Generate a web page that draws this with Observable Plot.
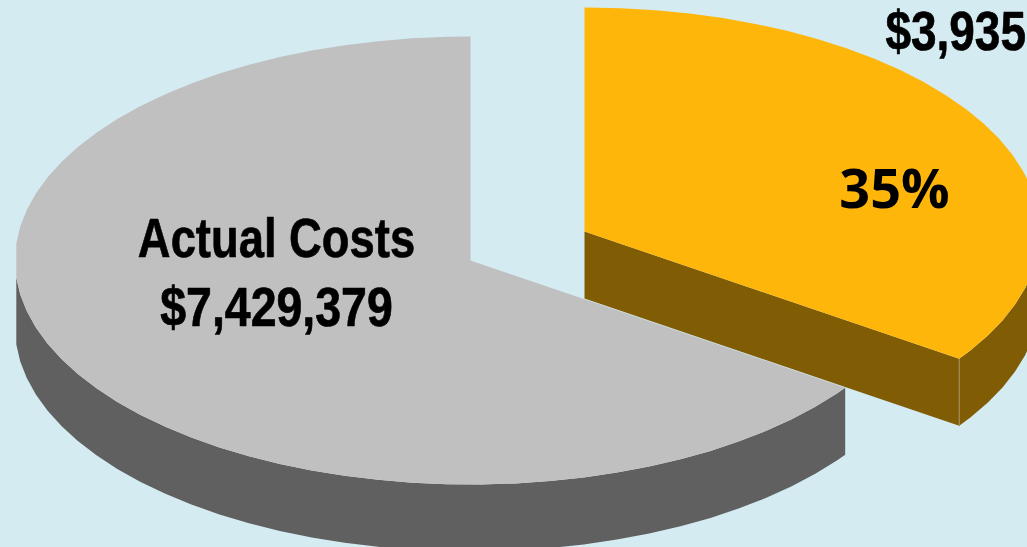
<!DOCTYPE html>
<html>
<head>
<meta charset="utf-8">
<script src="https://cdn.jsdelivr.net/npm/d3@7"></script>
<script src="https://cdn.jsdelivr.net/npm/@observablehq/plot@0.6"></script>
<style>
  html, body { margin: 0; padding: 0; background: #D4EBF2; overflow: hidden; }
  svg { display: block; }
</style>
</head>
<body>
<script>
// Cost split shown as an exploded, tilted pie
const categories = ["Remaining", "Actual Costs"];
const costs = [3935000, 7429379];
const bodyLabels = ["Actual Costs", "$7,429,379"];
const cutLabel = "$3,935";
const shareLabel = "35%";

const faceColors = ["#FFB60B", "#C0C0C0"];
const wallColors = ["#805C05", "#606060"];

// Pie space: radius 1, flattened vertically by the tilt, extruded by the depth
const width = 1027, height = 547;
const pxPerUnit = 455.5;
const tilt = 224 / pxPerUnit;
const depth = 67 / pxPerUnit;
const explode = {x: 114 / pxPerUnit, y: 29 / pxPerUnit};
const faceting = 4.35 * Math.PI / 180;
const leftmost = 1.5 * Math.PI;

const arcs = d3.pie().sort(null).startAngle(0).endAngle(2 * Math.PI)(costs);
const [cut, body] = arcs;

const rim = (a, o, drop = 0) => ({x: o.x + Math.sin(a), y: o.y + tilt * Math.cos(a) - drop});

// Rim angles between a0 and a1 on a coarse grid, with a wider flat facet at the leftmost point
function rimAngles(a0, a1) {
  const inner = [];
  for (let k = Math.ceil((a0 - leftmost) / faceting); leftmost + k * faceting < a1; k++) {
    const a = leftmost + k * faceting;
    if (a > a0 && k !== 0) inner.push(a);
  }
  return [a0, ...inner, a1];
}

const origin = {x: 0, y: 0};
const face = (arc, o) => [o, ...rimAngles(arc.startAngle, arc.endAngle).map(a => rim(a, o))];
const wall = (a0, a1, o) => {
  const angles = rimAngles(a0, a1);
  return [...angles.map(a => rim(a, o)), ...angles.reverse().map(a => rim(a, o, depth))];
};

const bodyWall = wall(body.startAngle, leftmost - faceting, origin);
const bodyFace = face(body, origin);
const cutOuterWall = wall(Math.PI / 2, cut.endAngle, explode);
const cutInnerWall = [
  explode,
  rim(cut.endAngle, explode),
  rim(cut.endAngle, explode, depth),
  {x: explode.x, y: explode.y - depth}
];
const cutFace = face(cut, explode);
const cutCorner = [rim(cut.endAngle, explode), rim(cut.endAngle, explode, depth)];

const poly = (points, fill) =>
  Plot.line(points, {x: "x", y: "y", fill, stroke: "none", curve: "linear"});

const labelFont = {
  fontFamily: "'Liberation Sans', Arial, sans-serif",
  fontWeight: "bold",
  fontSize: 56,
  fill: "black",
  stroke: "black",
  strokeWidth: 0.7,
  lineAnchor: "bottom",
  className: "squeezed"
};
const px = v => (v - 470) / pxPerUnit;
const py = v => (260 - v) / pxPerUnit;

const chart = Plot.plot({
  width,
  height,
  margin: 0,
  style: {background: "#D4EBF2", overflow: "hidden"},
  x: {domain: [px(0), px(width)], range: [0, width], axis: null},
  y: {domain: [py(height), py(0)], range: [height, 0], axis: null},
  marks: [
    poly(bodyWall, wallColors[1]),
    poly(bodyFace, faceColors[1]),
    poly(cutOuterWall, wallColors[0]),
    poly(cutInnerWall, wallColors[0]),
    Plot.line(cutCorner, {x: "x", y: "y", stroke: "#A8925A", strokeWidth: 1}),
    poly(cutFace, faceColors[0]),
    Plot.text(bodyLabels.slice(0, 1), {x: px(276), y: py(256), text: d => d, ...labelFont}),
    Plot.text(bodyLabels.slice(1), {x: px(276), y: py(325), text: d => d, ...labelFont}),
    Plot.text([cutLabel], {x: px(885), y: py(49), text: d => d, ...labelFont, textAnchor: "start"}),
    Plot.text([shareLabel], {
      x: px(894), y: py(207), text: d => d, lineAnchor: "bottom",
      fontFamily: "'Open Sans', 'Noto Sans', sans-serif", fontWeight: "bold", fontSize: 54, fill: "black"
    })
  ]
});
document.body.appendChild(chart);

// The condensed bold labels: no narrow face is available, so squeeze the glyphs horizontally
const squeeze = {"Actual Costs": 0.81, "$7,429,379": 0.83, "$3,935": 0.82};
d3.select(chart).selectAll(".squeezed text").each(function() {
  const label = this.textContent;
  this.setAttribute("textLength", this.getComputedTextLength() * squeeze[label]);
  this.setAttribute("lengthAdjust", "spacingAndGlyphs");
});
</script>
</body>
</html>
